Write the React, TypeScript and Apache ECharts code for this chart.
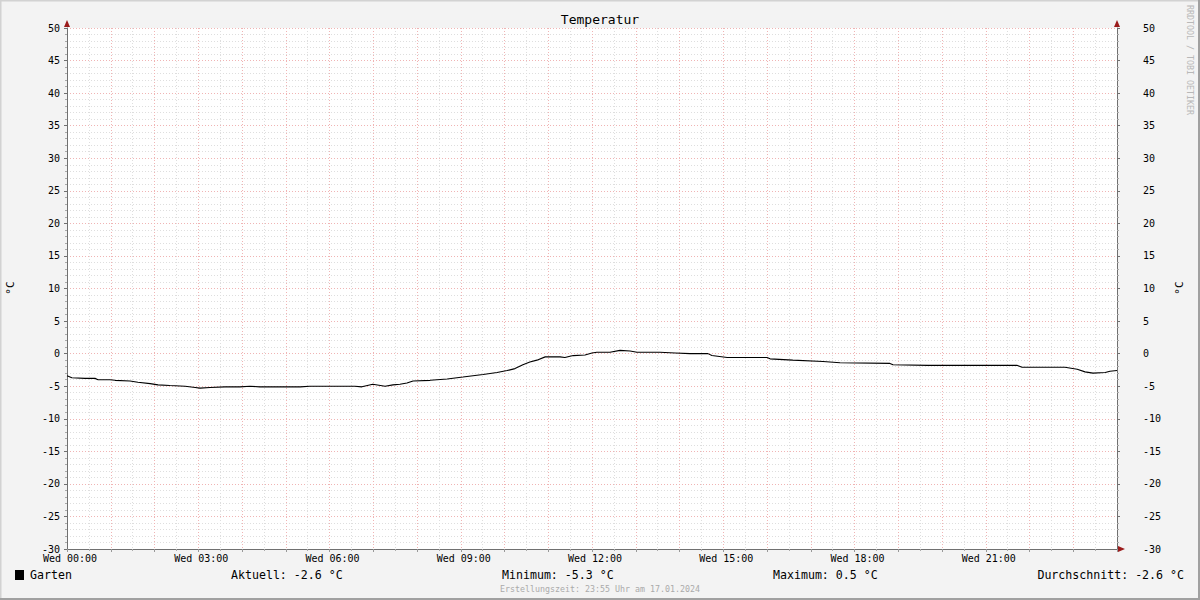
import React, { useEffect, useRef } from "react";
import * as echarts from "echarts";

// time in hours since Wed 00:00
const hours = [
  0, 0.11, 0.41, 0.64, 0.71, 0.98, 1.1, 1.44, 1.62, 1.9, 2.08, 2.35, 2.7, 2.93, 3.04, 3.27, 3.61,
  3.95, 4.18, 4.41, 4.87, 5.33, 5.55, 6.24, 6.58, 6.74, 6.99, 7.27, 7.45, 7.61, 7.77, 7.91, 8.3,
  8.69, 9.05, 9.51, 9.83, 10.06, 10.24, 10.42, 10.58, 10.74, 10.93, 11.27, 11.38, 11.57, 11.84,
  12.0, 12.11, 12.41, 12.64, 12.87, 13.03, 13.55, 13.9, 14.24, 14.65, 14.74, 15.09, 16.0, 16.07,
  16.59, 17.28, 17.67, 18.81, 18.88, 19.68, 21.71, 21.83, 22.81, 23.09, 23.27, 23.45, 23.73,
  23.84, 24.0,
];
const temps = [
  -3.4, -3.7, -3.8, -3.8, -4.0, -4.0, -4.1, -4.2, -4.4, -4.6, -4.8, -4.9, -5.0, -5.2, -5.3, -5.2,
  -5.1, -5.1, -5.0, -5.1, -5.1, -5.1, -5.0, -5.0, -5.0, -5.1, -4.7, -5.0, -4.8, -4.7, -4.5, -4.2,
  -4.1, -3.9, -3.6, -3.2, -2.9, -2.6, -2.3, -1.7, -1.3, -1.0, -0.5, -0.5, -0.6, -0.3, -0.2, 0.1,
  0.2, 0.2, 0.5, 0.4, 0.2, 0.2, 0.1, 0.0, 0.0, -0.3, -0.6, -0.6, -0.8, -1.0, -1.2, -1.4, -1.5,
  -1.7, -1.8, -1.8, -2.1, -2.1, -2.4, -2.8, -3.0, -2.9, -2.7, -2.6,
];

const seriesName = "Garten";
const titleText = "Temperatur";
const unitLabel = "°C";
const dayLabel = "Wed";
const statLabels = ["Aktuell: -2.6 °C", "Minimum: -5.3 °C", "Maximum: 0.5 °C", "Durchschnitt: -2.6 °C"];
const creationText = "Erstellungszeit: 23:55 Uhr am 17.01.2024";
const watermark = "RRDTOOL / TOBI OETIKER";

const MONO = "'DejaVu Sans Mono', monospace";
const MAJOR = "#f0b4b4";
const MINOR = "#dedede";
const AXIS = "#707070";
const ARROW = "#9b1b1b";

export default function App() {
  const ref = useRef<HTMLDivElement>(null);
  useEffect(() => {
    if (!ref.current) return;
    const chart = echarts.init(ref.current, null, { renderer: "svg" });
    const data = hours.map((h, i) => [h, temps[i]]);
    const pad = (n: number) => (n < 10 ? "0" + n : "" + n);
    const yAxisBase = {
      type: "value",
      min: -30,
      max: 50,
      interval: 5,
      axisLine: { show: true, lineStyle: { color: AXIS, width: 1 } },
      axisTick: { show: true, length: 3, inside: false, lineStyle: { color: AXIS } },
      minorTick: { show: true, splitNumber: 5, length: 2, lineStyle: { color: "#aaa" } },
    };
    chart.setOption({
      animation: false,
      backgroundColor: "#f3f3f3",
      grid: {
        left: 67,
        top: 28,
        width: 1050,
        height: 521,
        show: true,
        backgroundColor: "#ffffff",
        borderWidth: 0,
      },
      xAxis: {
        type: "value",
        min: 0,
        max: 24,
        interval: 1,
        axisLine: { show: true, onZero: false, lineStyle: { color: AXIS, width: 1 } },
        axisTick: { show: true, length: 3, lineStyle: { color: "#999" } },
        minorTick: { show: true, splitNumber: 2, length: 2, lineStyle: { color: "#aaa" } },
        splitLine: { show: true, lineStyle: { color: MAJOR, type: [1, 2], width: 1 } },
        minorSplitLine: { show: true, lineStyle: { color: MINOR, type: [1, 2], width: 1 } },
        axisLabel: {
          color: "#000",
          fontFamily: MONO,
          fontSize: 10,
          margin: 4,
          padding: [0, 0, 0, 6],
          showMaxLabel: false,
          formatter: (v: number) =>
            v % 3 === 0 && v < 24 ? `${dayLabel} ${pad(v)}:00` : "",
        },
      },
      yAxis: [
        {
          ...yAxisBase,
          position: "left",
          splitLine: { show: true, lineStyle: { color: MAJOR, type: [1, 2], width: 1 } },
          minorSplitLine: { show: true, lineStyle: { color: MINOR, type: [1, 2], width: 1 } },
          axisLabel: { color: "#000", fontFamily: MONO, fontSize: 10, margin: 7 },
        },
        {
          ...yAxisBase,
          position: "right",
          splitLine: { show: false },
          minorSplitLine: { show: false },
          axisLabel: { color: "#000", fontFamily: MONO, fontSize: 10, margin: 26, align: "left" },
        },
      ],
      series: [
        {
          type: "line",
          name: seriesName,
          data,
          showSymbol: false,
          symbol: "none",
          lineStyle: { color: "#000", width: 1.1 },
          yAxisIndex: 0,
          z: 5,
        },
      ],
      graphic: [
        // frame
        { type: "line", shape: { x1: 0, y1: 0.5, x2: 1200, y2: 0.5 }, style: { stroke: "#d2d2d2", lineWidth: 2 } },
        { type: "line", shape: { x1: 0.5, y1: 0, x2: 0.5, y2: 600 }, style: { stroke: "#d2d2d2", lineWidth: 2 } },
        { type: "line", shape: { x1: 0, y1: 599, x2: 1200, y2: 599 }, style: { stroke: "#a0a0a0", lineWidth: 2 } },
        { type: "line", shape: { x1: 1199, y1: 0, x2: 1199, y2: 600 }, style: { stroke: "#a0a0a0", lineWidth: 2 } },
        // arrows
        { type: "polygon", shape: { points: [[64, 27], [70, 27], [67, 20]] }, style: { fill: ARROW }, z: 10 },
        { type: "polygon", shape: { points: [[1114, 27], [1120, 27], [1117, 20]] }, style: { fill: ARROW }, z: 10 },
        { type: "polygon", shape: { points: [[1118, 546], [1118, 552], [1125, 549]] }, style: { fill: ARROW }, z: 10 },
        // title
        {
          type: "text",
          x: 600,
          y: 19,
          style: { text: titleText, font: `13px ${MONO}`, fill: "#000", textAlign: "center", textVerticalAlign: "middle" },
        },
        // unit labels
        {
          type: "text",
          x: 10,
          y: 288,
          rotation: Math.PI / 2,
          style: { text: unitLabel, font: `11px ${MONO}`, fill: "#000", textAlign: "center", textVerticalAlign: "middle" },
        },
        {
          type: "text",
          x: 1179,
          y: 288,
          rotation: Math.PI / 2,
          style: { text: unitLabel, font: `11px ${MONO}`, fill: "#000", textAlign: "center", textVerticalAlign: "middle" },
        },
        // watermark
        {
          type: "text",
          x: 1190,
          y: 60,
          rotation: -Math.PI / 2,
          style: { text: watermark, font: `8.3px ${MONO}`, fill: "#b8b8b8", textAlign: "center", textVerticalAlign: "middle" },
        },
        // legend
        { type: "rect", shape: { x: 15, y: 570, width: 9, height: 10 }, style: { fill: "#000" } },
        {
          type: "text",
          x: 30,
          y: 575,
          style: { text: seriesName, font: `11.6px ${MONO}`, fill: "#000", textAlign: "left", textVerticalAlign: "middle" },
        },
        {
          type: "text",
          x: 231,
          y: 575,
          style: { text: statLabels[0], font: `11.6px ${MONO}`, fill: "#000", textAlign: "left", textVerticalAlign: "middle" },
        },
        {
          type: "text",
          x: 502,
          y: 575,
          style: { text: statLabels[1], font: `11.6px ${MONO}`, fill: "#000", textAlign: "left", textVerticalAlign: "middle" },
        },
        {
          type: "text",
          x: 773,
          y: 575,
          style: { text: statLabels[2], font: `11.6px ${MONO}`, fill: "#000", textAlign: "left", textVerticalAlign: "middle" },
        },
        {
          type: "text",
          x: 1184,
          y: 575,
          style: { text: statLabels[3], font: `11.6px ${MONO}`, fill: "#000", textAlign: "right", textVerticalAlign: "middle" },
        },
        {
          type: "text",
          x: 600,
          y: 589,
          style: { text: creationText, font: `8.3px ${MONO}`, fill: "#aaaaaa", textAlign: "center", textVerticalAlign: "middle" },
        },
      ],
    });
    return () => chart.dispose();
  }, []);
  return (
    <div
      ref={ref}
      style={{ position: "absolute", left: 0, top: 0, width: 1200, height: 600 }}
    />
  );
}
